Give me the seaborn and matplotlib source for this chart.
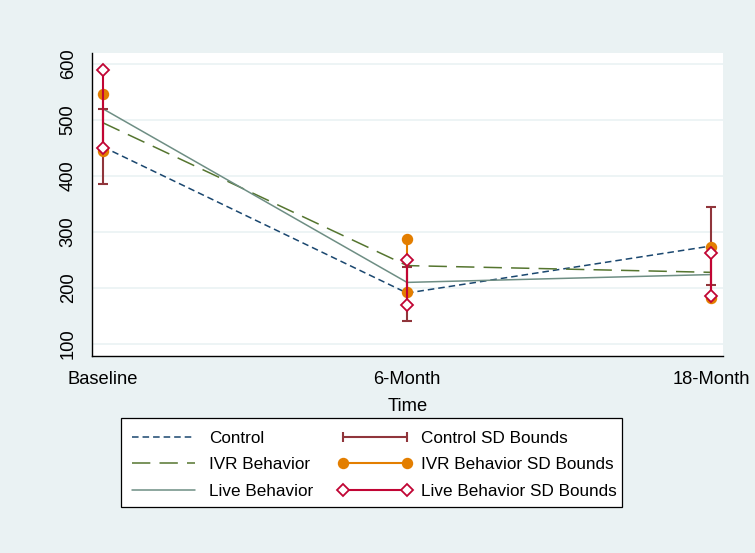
"""
Recreate Stata-style line chart of group means with SD bounds
"""
import numpy as np
import pandas as pd
import matplotlib
matplotlib.use('Agg')
import matplotlib.pyplot as plt
from matplotlib.lines import Line2D
from matplotlib.patches import Rectangle
import seaborn as sns

# Data
time_labels = ['Baseline', '6-Month', '18-Month']
time_pos = [0, 1, 2]

control_mean = [452, 191, 275]
ivr_mean = [495, 240, 228]
live_mean = [520, 210, 224]

control_lo = [385, 141, 205]
control_hi = [520, 238, 345]
ivr_lo = [444, 193, 182]
ivr_hi = [546, 287, 273]
live_lo = [450, 170, 186]
live_hi = [590, 250, 263]

# Stata s2color palette
NAVY = '#1A476F'
MAROON = '#90353B'
GREEN = '#55752F'
ORANGE = '#E37E00'
TEAL = '#6E8E84'
CRANBERRY = '#C10534'
BG = '#EAF2F3'

sns.set_style('white')
plt.rcParams['font.family'] = ['Liberation Sans', 'DejaVu Sans']
plt.rcParams['text.color'] = 'black'
plt.rcParams['axes.labelcolor'] = 'black'
plt.rcParams['xtick.color'] = 'black'
plt.rcParams['ytick.color'] = 'black'

df = pd.DataFrame({
    'time': time_pos * 3,
    'value': control_mean + ivr_mean + live_mean,
    'group': ['Control'] * 3 + ['IVR Behavior'] * 3 + ['Live Behavior'] * 3,
})

W, H = 755, 553
fig = plt.figure(figsize=(W / 100, H / 100), dpi=100, facecolor=BG)
ax = fig.add_axes([92 / W, 1 - 356 / H, (723 - 92) / W, (356 - 53) / H])
ax.set_facecolor('white')

palette = {'Control': NAVY, 'IVR Behavior': GREEN, 'Live Behavior': TEAL}
dashes = {'Control': (4.3, 2.6), 'IVR Behavior': (12, 6), 'Live Behavior': ''}
sns.lineplot(data=df, x='time', y='value', hue='group', style='group',
             palette=palette, dashes=dashes, linewidth=1.1, legend=False,
             ax=ax, zorder=2)

# SD bounds
ax.errorbar(time_pos, [(a + b) / 2 for a, b in zip(control_lo, control_hi)],
            yerr=[[(b - a) / 2 for a, b in zip(control_lo, control_hi)]] * 2,
            fmt='none', ecolor=MAROON, elinewidth=1.5, capsize=3.6,
            capthick=1.5, zorder=3)
for x, lo, hi in zip(time_pos, ivr_lo, ivr_hi):
    ax.plot([x, x], [lo, hi], color=ORANGE, lw=1.5, marker='o', ms=7.2,
            zorder=4)
for x, lo, hi in zip(time_pos, live_lo, live_hi):
    ax.plot([x, x], [lo, hi], color=CRANBERRY, lw=1.5, marker='D', ms=6.6,
            mfc='white', mec=CRANBERRY, mew=1.3, zorder=5)

ax.set_xlim(-0.036, 2.039)
ax.set_ylim(78.6, 619.6)
ax.set_xticks(time_pos)
ax.set_xticklabels(time_labels)
ax.set_yticks([100, 200, 300, 400, 500, 600])
ax.set_xlabel('Time', fontsize=13.2, labelpad=7)
ax.set_ylabel('')
ax.grid(True, axis='y', color=BG, lw=1.2, zorder=0)
ax.set_axisbelow(True)

for side in ['top', 'right']:
    ax.spines[side].set_visible(False)
for side in ['left', 'bottom']:
    ax.spines[side].set_color('black')
    ax.spines[side].set_linewidth(1.0)

ax.tick_params(axis='x', direction='out', length=6, width=0.8,
               labelsize=13.2, pad=5)
ax.tick_params(axis='y', direction='out', length=6, width=0.8,
               labelsize=13.2, pad=5)
for lbl in ax.get_yticklabels():
    lbl.set_rotation(90)
    lbl.set_va('center')

# legend box (drawn separately to match Stata padding)
fig.patches.append(Rectangle((121 / W, 1 - 507 / H), 501 / W, 89 / H,
                             transform=fig.transFigure, facecolor='white',
                             edgecolor='black', lw=0.9, zorder=0))

handles = [
    Line2D([], [], color=NAVY, lw=1.1, dashes=(4.3, 2.6)),
    Line2D([], [], color=GREEN, lw=1.1, dashes=(12, 6)),
    Line2D([], [], color=TEAL, lw=1.1),
    Line2D([], [], color=MAROON, lw=1.5, marker='|', ms=7, mew=1.5),
    Line2D([], [], color=ORANGE, lw=1.5, marker='o', ms=7.2),
    Line2D([], [], color=CRANBERRY, lw=1.5, marker='D', ms=6.6,
           mfc='white', mec=CRANBERRY, mew=1.3),
]
labels = ['Control', 'IVR Behavior', 'Live Behavior',
          'Control SD Bounds', 'IVR Behavior SD Bounds',
          'Live Behavior SD Bounds']
leg = fig.legend(handles, labels, ncol=2, loc='upper left',
                 bbox_to_anchor=(127 / W, 1 - 431 / H),
                 fontsize=12.3, numpoints=2, handlelength=4.3,
                 handletextpad=0.52, columnspacing=1.45, labelspacing=0.67,
                 borderpad=0, borderaxespad=0, frameon=False)

fig.savefig('out.png', dpi=100, facecolor=BG)
